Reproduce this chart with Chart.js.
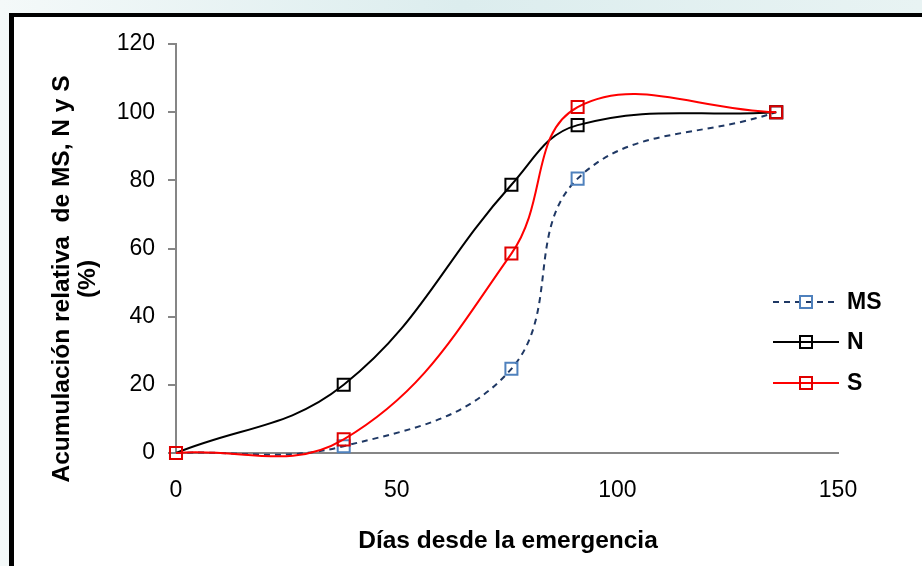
<!DOCTYPE html>
<html>
<head>
<meta charset="utf-8">
<script src="https://cdn.jsdelivr.net/npm/chart.js@4.4.1/dist/chart.umd.min.js"></script>
<style>
  html, body { margin: 0; padding: 0; background: #ffffff; }
  #wrap { width: 922px; height: 566px; }
  canvas { display: block; }
</style>
</head>
<body>
<div id="wrap"><canvas id="c" width="922" height="566" style="width:922px;height:566px"></canvas></div>
<script>
// ---- data ----
const days = [0, 38, 76, 91, 136];
const msValues = [0, 2, 24.7, 80.5, 100];
const nValues = [0, 20, 78.7, 96.2, 100];
const sValues = [0, 4, 58.5, 101.5, 100];
const seriesNames = ['MS', 'N', 'S'];
const xTickValues = [0, 50, 100, 150];
const yTickValues = [0, 20, 40, 60, 80, 100, 120];
const xTitle = 'Días desde la emergencia';
const yTitleLines = ['Acumulación relativa  de MS, N y S', '(%)'];

const toPoints = (vals) => days.map((d, i) => ({ x: d, y: vals[i] }));

const FONT = "'Liberation Sans', Arial, sans-serif";

const canvas = document.getElementById('c');
const ctx = canvas.getContext('2d');

const decorPlugin = {
  id: 'decor',
  beforeDraw(chart) {
    const c = chart.ctx;
    c.save();
    const g = c.createLinearGradient(0, 0, 922, 0);
    g.addColorStop(0, '#f4f9f9');
    g.addColorStop(0.5, '#dcedee');
    g.addColorStop(1, '#e8f3f3');
    c.fillStyle = g;
    c.fillRect(0, 0, 922, 566);
    c.fillStyle = '#ffffff';
    c.fillRect(14, 17, 908, 549);
    c.fillStyle = '#000000';
    c.fillRect(9, 13, 913, 4);
    c.fillRect(9, 13, 5, 553);
    c.restore();
  },
  afterDraw(chart) {
    const c = chart.ctx;
    const area = chart.chartArea;
    c.save();
    c.fillStyle = '#000000';
    c.font = 'bold 24.5px ' + FONT;
    // x title
    c.textAlign = 'center';
    c.textBaseline = 'alphabetic';
    c.fillText(xTitle, (area.left + area.right) / 2 + 1, 548);
    // y title
    c.save();
    c.translate(69, 279);
    c.rotate(-Math.PI / 2);
    c.fillText(yTitleLines[0], 0, 0);
    c.fillText(yTitleLines[1], 0, 26);
    c.restore();
    // legend
    const legY = [302, 342, 383];
    c.font = 'bold 23px ' + FONT;
    chart.data.datasets.forEach((ds, i) => {
      const y = legY[i];
      c.strokeStyle = ds.borderColor;
      c.lineWidth = ds.borderWidth;
      c.setLineDash(ds.borderDash || []);
      c.beginPath();
      c.moveTo(773, y);
      c.lineTo(839, y);
      c.stroke();
      c.setLineDash([]);
      c.strokeStyle = ds.pointBorderColor;
      c.lineWidth = 2;
      c.strokeRect(800, y - 6, 12, 12);
      c.fillStyle = '#000000';
      c.textAlign = 'left';
      c.textBaseline = 'middle';
      c.fillText(ds.label, 847, y + 1);
    });
    c.restore();
  }
};

const common = {
  showLine: true,
  borderWidth: 2,
  pointStyle: 'rect',
  pointRadius: 8.5,
  pointHoverRadius: 8.5,
  pointBorderWidth: 2,
  pointBackgroundColor: 'rgba(0,0,0,0)',
  tension: 0.4,
  clip: false
};

new Chart(ctx, {
  type: 'scatter',
  data: {
    datasets: [
      Object.assign({}, common, {
        label: seriesNames[0], data: toPoints(msValues),
        borderColor: '#1F3864', borderDash: [6, 5],
        pointBorderColor: '#4F81BD', order: 2
      }),
      Object.assign({}, common, {
        label: seriesNames[1], data: toPoints(nValues),
        borderColor: '#000000', pointBorderColor: '#000000', order: 1
      }),
      Object.assign({}, common, {
        label: seriesNames[2], data: toPoints(sValues),
        borderColor: '#FF0000', pointBorderColor: '#E00000', order: 0
      })
    ]
  },
  options: {
    responsive: false,
    animation: false,
    devicePixelRatio: 1,
    elements: { line: { capBezierPoints: false } },
    layout: { padding: { left: 0, top: 44, right: 84, bottom: 0 } },
    plugins: {
      legend: { display: false },
      tooltip: { enabled: false },
      title: { display: false }
    },
    scales: {
      x: {
        type: 'linear',
        min: 0, max: 150,
        afterBuildTicks(s) { s.ticks = xTickValues.map(v => ({ value: v })); },
        afterFit(s) { s.height = 113; },
        ticks: { color: '#000000', font: { family: FONT, size: 23 }, padding: 24, maxRotation: 0 },
        grid: { display: false, drawTicks: false },
        border: { display: true, color: '#868686', width: 2 }
      },
      y: {
        type: 'linear',
        min: 0, max: 120,
        afterBuildTicks(s) { s.ticks = yTickValues.map(v => ({ value: v })); },
        afterFit(s) { s.width = 176; },
        ticks: { color: '#000000', font: { family: FONT, size: 23 }, padding: 13 },
        grid: { display: true, drawOnChartArea: false, drawTicks: true, tickLength: 8, color: '#868686', lineWidth: 2 },
        border: { display: true, color: '#868686', width: 2 }
      }
    }
  },
  plugins: [decorPlugin]
});
</script>
</body>
</html>
